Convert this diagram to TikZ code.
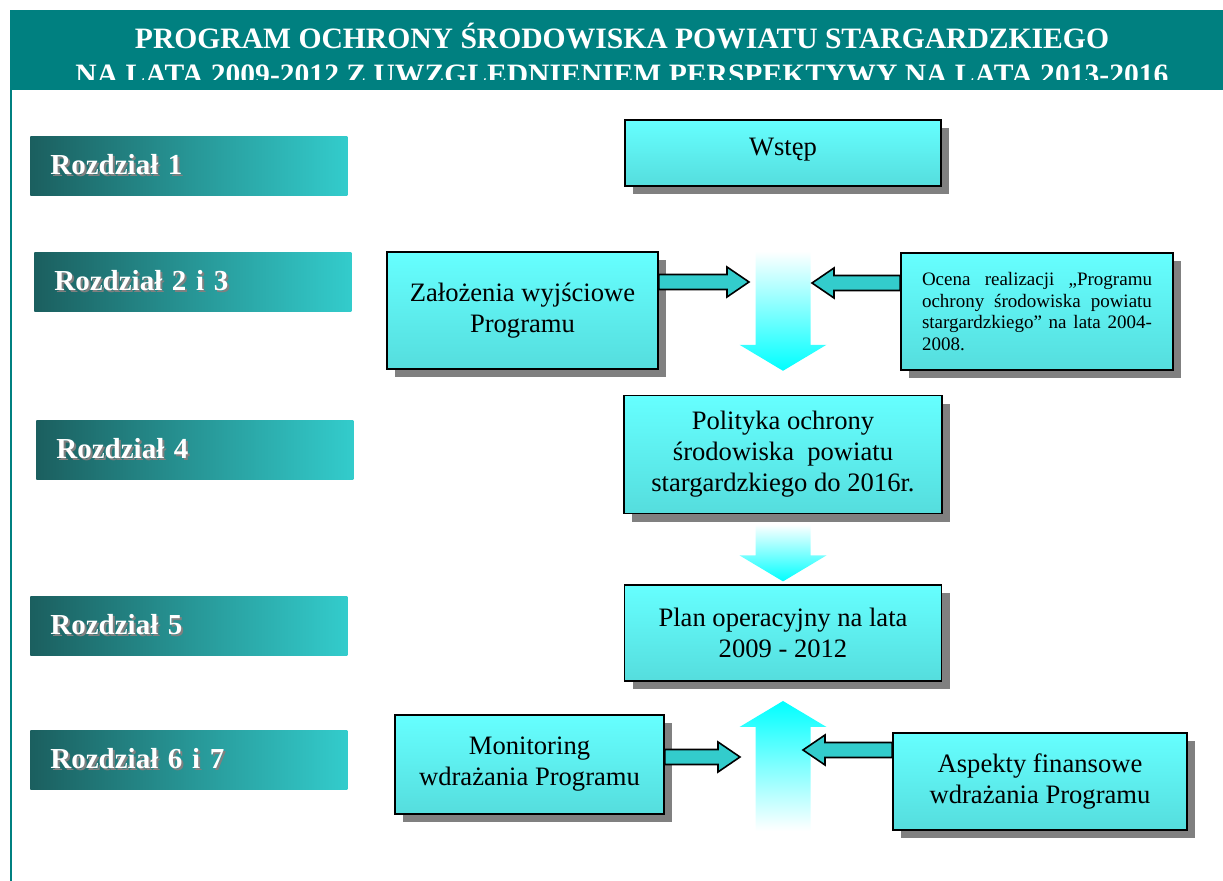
\documentclass[tikz,border=0pt]{standalone}
\usepackage{fontspec}
\setmainfont{Liberation Serif}
\usepackage{tikz}
\usetikzlibrary{positioning, calc, shadows}
\definecolor{boxtop}{HTML}{66FFFF}
\definecolor{boxbottom}{HTML}{55DDDD}
\definecolor{arrowfill}{HTML}{33CCCC}
\definecolor{bannerteal}{HTML}{008080}
\definecolor{bardark}{HTML}{1B5F5F}
\definecolor{barlight}{HTML}{33CCCC}
\definecolor{shadowgray}{HTML}{808080}
\newcommand{\shadowed}[1]{\makebox[0pt][l]{\hspace{1pt}\raisebox{-1pt}{\color{shadowgray}#1}}#1}

\begin{document}
\begin{tikzpicture}[x=0.5pt, y=-0.5pt, box/.style={draw=black, line width=0.8pt, top color=boxtop, bottom color=boxbottom, drop shadow={shadow xshift=4pt, shadow yshift=-4pt, fill=shadowgray, opacity=1}, align=center, inner sep=0pt, font=\fontsize{13.3}{15.5}\selectfont}, chapter/.style={anchor=north west, left color=bardark, right color=barlight, minimum width=158.5pt, minimum height=29.5pt, text width=138.5pt, inner xsep=10pt, align=left, text=white, font=\fontsize{14.5}{17}\selectfont\bfseries}, titletext/.style={anchor=base, inner sep=0pt, text=white, font=\fontsize{14.8}{17.5}\selectfont\bfseries}, flowarrow/.style={draw=black, line width=0.8pt, fill=arrowfill, to path={let \p1=(\tikztostart), \p2=(\tikztotarget), \n1={sign(\x2-\x1)} in (\x1,{\y1+3.75pt}) -- ({\x2-(\n1)*11pt},{\y1+3.75pt}) -- ({\x2-(\n1)*11pt},{\y1+7.5pt}) -- (\x2,\y1) -- ({\x2-(\n1)*11pt},{\y1-7.5pt}) -- ({\x2-(\n1)*11pt},{\y1-3.75pt}) -- (\x1,{\y1-3.75pt}) -- cycle}}, bigarrow/.style={to path={let \p1=(\tikztostart), \p2=(\tikztotarget), \n1={sign(\y2-\y1)} in ({\x1-13.75pt},\y1) -- ({\x1-13.75pt},{\y2-(\n1)*13pt}) -- ({\x1-21.75pt},{\y2-(\n1)*13pt}) -- (\x2,\y2) -- ({\x1+21.75pt},{\y2-(\n1)*13pt}) -- ({\x1+13.75pt},{\y2-(\n1)*13pt}) -- ({\x1+13.75pt},\y1) -- cycle}}]

    \useasboundingbox (0,0) rectangle (1223,881);

    %Banner
    \fill[bannerteal] (10,10) rectangle (1223,90);
    \draw[bannerteal, line width=1pt] (11,90) -- (11,881);
    \begin{scope}
        \clip (10,10) rectangle (1223,80);
        \node[titletext](title1) at (622,49){PROGRAM OCHRONY ŚRODOWISKA POWIATU STARGARDZKIEGO};
        \node[titletext](title2) at (622,85){NA LATA 2009-2012 Z UWZGLĘDNIENIEM PERSPEKTYWY NA LATA 2013-2016};
    \end{scope}

    %Chapters
    \node[chapter](ch1) at (30,136){\shadowed{Rozdział 1}};
    \node[chapter](ch23) at (34,252){\shadowed{Rozdział 2 i 3}};
    \node[chapter](ch4) at (36,420){\shadowed{Rozdział 4}};
    \node[chapter](ch5) at (30,596){\shadowed{Rozdział 5}};
    \node[chapter](ch67) at (30,730){\shadowed{Rozdział 6 i 7}};

    %Nodes
    \node[box, minimum width=158pt, minimum height=33pt, text depth=6pt](wstep) at (783,153){Wstęp};
    \node[box, minimum width=135.5pt, minimum height=58.5pt](zal) at (522.5,310.5){Założenia wyjściowe\\Programu};
    \node[box, minimum width=136pt, minimum height=58.5pt, text width=115pt, align=justify, font=\fontsize{9.5}{10.8}\selectfont](ocena) at (1037,311.5){Ocena realizacji „Programu\linebreak ochrony środowiska powiatu\linebreak stargardzkiego” na lata 2004-\linebreak 2008.};
    \node[box, minimum width=159pt, minimum height=59pt](pol)[below=104pt of wstep]{Polityka ochrony\\środowiska~ powiatu\\stargardzkiego do 2016r.};
    \node[box, minimum width=158.5pt, minimum height=48pt](plan)[below=35pt of pol]{Plan operacyjny na lata\\2009 - 2012};
    \node[box, minimum width=134.5pt, minimum height=49.5pt](mon) at (529.5,764.5){Monitoring\\wdrażania Programu};
    \node[box, minimum width=147pt, minimum height=48.5pt](asp) at (1040,781.5){Aspekty finansowe\\wdrażania Programu};

    %Big arrows
    \coordinate (in1) at (wstep.south |- zal.north);
    \coordinate (in2) at ($(pol.south)+(0,10)$);
    \coordinate (in3) at (plan.south |- asp.south);
    \shade[bigarrow, top color=white, bottom color=cyan] (in1) to ($(pol.north)+(0,-24)$);
    \shade[bigarrow, top color=white, bottom color=cyan] (in2) to ($(plan.north)+(0,-3)$);
    \shade[bigarrow, top color=cyan, bottom color=white] (in3) to ($(plan.south)+(0,19)$);

    %Lines
    \coordinate (zaltip) at (749,282);
    \coordinate (ocenatip) at (812,283);
    \coordinate (montip) at (740,757);
    \coordinate (asptip) at (803,750);
    \draw[flowarrow] (zal.east |- zaltip) to (zaltip);
    \draw[flowarrow] (ocena.west |- ocenatip) to (ocenatip);
    \draw[flowarrow] (mon.east |- montip) to (montip);
    \draw[flowarrow] (asp.west |- asptip) to (asptip);

\end{tikzpicture}
\end{document}
